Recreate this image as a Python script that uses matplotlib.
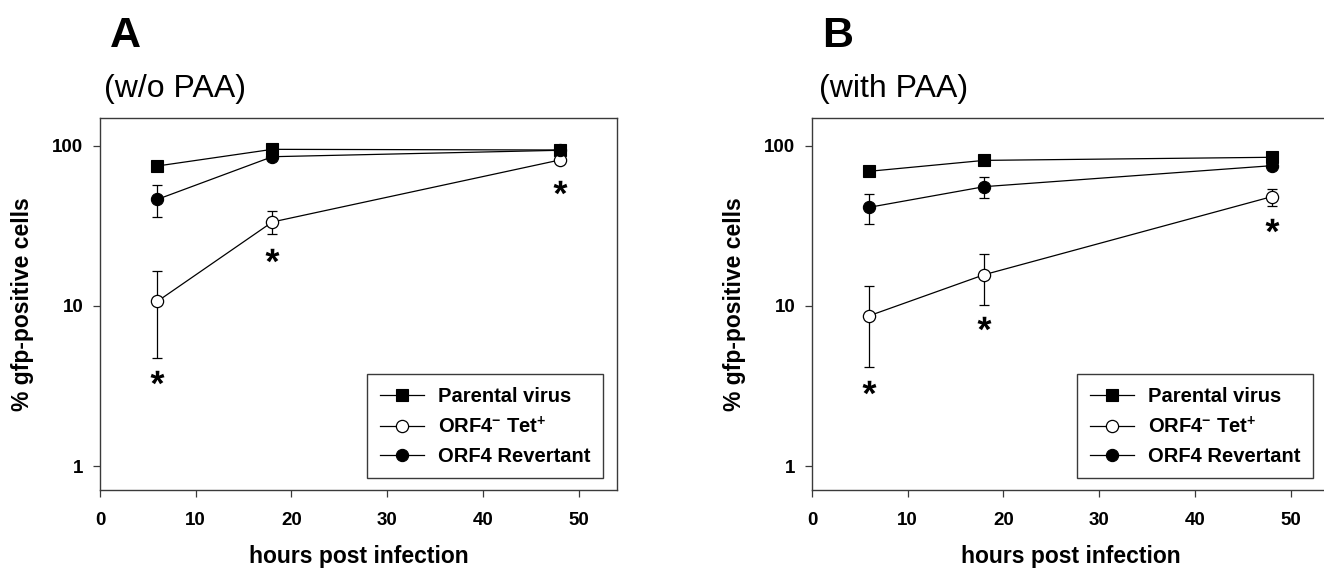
import numpy as np
import matplotlib
matplotlib.use("Agg")
import matplotlib.pyplot as plt
from matplotlib.textpath import TextPath
from matplotlib.font_manager import FontProperties
from matplotlib.path import Path
from matplotlib.ticker import FixedLocator, NullLocator

plt.rcParams['font.family'] = ['Liberation Sans', 'DejaVu Sans']
plt.rcParams['mathtext.fontset'] = 'custom'
plt.rcParams['mathtext.rm'] = 'Liberation Sans:bold'
plt.rcParams['mathtext.bf'] = 'Liberation Sans:bold'
plt.rcParams['mathtext.it'] = 'Liberation Sans:bold'

# ---------------- data ----------------
hours = [6, 18, 48]

# Panel A (w/o PAA)
a_parental = [75.0, 95.3, 94.4]
a_revertant = [46.4, 85.7, 94.0]
a_revertant_lo = [35.8, 85.7, 94.0]
a_revertant_hi = [57.3, 85.7, 94.0]
a_orf4 = [10.7, 33.5, 81.7]
a_orf4_lo = [4.75, 28.2, 81.7]
a_orf4_hi = [16.6, 39.1, 81.7]
a_star_y = [3.6, 20.8, 55.2]

# Panel B (with PAA)
b_parental = [69.5, 81.3, 85.0]
b_revertant = [41.4, 55.7, 75.3]
b_revertant_lo = [32.4, 47.3, 75.3]
b_revertant_hi = [50.3, 64.3, 75.3]
b_orf4 = [8.7, 15.7, 48.2]
b_orf4_lo = [4.16, 10.1, 42.2]
b_orf4_hi = [13.4, 21.1, 54.1]
b_star_y = [3.1, 7.8, 32.1]

x_ticks = [0, 10, 20, 30, 40, 50]
y_ticks = [1, 10, 100]
y_tick_labels = ["1", "10", "100"]
legend_labels = ["Parental virus", r"ORF4$^{-}$ Tet$^{+}$", "ORF4 Revertant"]
panel_letters = ["A", "B"]
panel_titles = ["(w/o PAA)", "(with PAA)"]
x_label = "hours post infection"
y_label = "% gfp-positive cells"

# ---------------- star marker ----------------
fp = FontProperties(family='Liberation Sans', weight='bold')
tp = TextPath((0, 0), "*", prop=fp, size=10)
verts = tp.vertices.copy()
codes = tp.codes.copy()
real = codes != Path.CLOSEPOLY
cx = (verts[real, 0].min() + verts[real, 0].max()) / 2
cy = (verts[real, 1].min() + verts[real, 1].max()) / 2
verts[:, 0] -= cx
verts[:, 1] -= cy
verts[~real] = 0.0
star_marker = Path(verts, codes)

W, H = 1324, 568
fig = plt.figure(figsize=(W / 100, H / 100), dpi=100)

ax_w = 517 / W
ax_h = 372 / H
ax_b = 1 - 490 / H
axA = fig.add_axes([100 / W, ax_b, ax_w, ax_h])
axB = fig.add_axes([812 / W, ax_b, ax_w, ax_h])

spine_col = '#3a3a3a'


def draw(ax, par, rev, rev_lo, rev_hi, orf, orf_lo, orf_hi, star_y, legend_x):
    ax.set_yscale('log')
    lw = 0.9
    h1, = ax.plot(hours, par, '-', color='black', lw=lw, marker='s', ms=8.6,
                  mfc='black', mec='black', mew=0.8, zorder=3)
    rev_err = [np.array(rev) - np.array(rev_lo), np.array(rev_hi) - np.array(rev)]
    orf_err = [np.array(orf) - np.array(orf_lo), np.array(orf_hi) - np.array(orf)]
    ax.errorbar(hours, orf, yerr=orf_err, fmt='none', ecolor='black', elinewidth=0.9,
                capsize=3.3, capthick=0.9, zorder=2)
    ax.errorbar(hours, rev, yerr=rev_err, fmt='none', ecolor='black', elinewidth=0.9,
                capsize=3.3, capthick=0.9, zorder=2)
    h2, = ax.plot(hours, orf, '-', color='black', lw=lw, marker='o', ms=8.8,
                  mfc='white', mec='black', mew=0.9, zorder=3)
    h3, = ax.plot(hours, rev, '-', color='black', lw=lw, marker='o', ms=8.8,
                  mfc='black', mec='black', mew=0.8, zorder=4)
    ax.plot(hours, star_y, ls='none', marker=star_marker, ms=10, color='black',
            mec='black', mew=0, zorder=5)

    ax.set_xlim(0, 54)
    ax.set_ylim(0.708, 149.6)
    ax.xaxis.set_major_locator(FixedLocator(x_ticks))
    ax.set_xticklabels([str(t) for t in x_ticks])
    ax.yaxis.set_major_locator(FixedLocator(y_ticks))
    ax.yaxis.set_minor_locator(NullLocator())
    ax.set_yticklabels(y_tick_labels)
    ax.tick_params(axis='both', direction='out', length=5, width=0.9, color=spine_col,
                   labelsize=13.5)
    ax.tick_params(axis='y', pad=7)
    ax.tick_params(axis='x', pad=11)
    for lab in ax.get_xticklabels() + ax.get_yticklabels():
        lab.set_fontweight('bold')
    for s in ax.spines.values():
        s.set_color(spine_col)
        s.set_linewidth(1.0)
    ax.set_xlabel(x_label, fontsize=16.5, fontweight='bold', labelpad=11)
    ax.set_ylabel(y_label, fontsize=16.5, fontweight='bold', labelpad=13)

    leg = ax.legend([h1, h2, h3], legend_labels, loc='lower right',
                    bbox_to_anchor=(legend_x, 0.032), frameon=True, fancybox=False,
                    edgecolor='black', framealpha=1,
                    prop=FontProperties(family='Liberation Sans', weight='bold', size=14.5),
                    handlelength=2.2, handletextpad=0.7, borderpad=0.62,
                    labelspacing=0.48, borderaxespad=0)
    leg.get_frame().set_linewidth(1.0)
    leg.get_frame().set_edgecolor(spine_col)
    return ax


draw(axA, a_parental, a_revertant, a_revertant_lo, a_revertant_hi,
     a_orf4, a_orf4_lo, a_orf4_hi, a_star_y, (603 - 100) / 517)
draw(axB, b_parental, b_revertant, b_revertant_lo, b_revertant_hi,
     b_orf4, b_orf4_lo, b_orf4_hi, b_star_y, (1313 - 812) / 517)

fig.text(110 / W, 1 - 47 / H, panel_letters[0], fontsize=31, fontweight='bold',
         ha='left', va='baseline')
fig.text(822 / W, 1 - 47 / H, panel_letters[1], fontsize=31, fontweight='bold',
         ha='left', va='baseline')
fig.text(104 / W, 1 - 97 / H, panel_titles[0], fontsize=23, ha='left', va='baseline')
fig.text(819 / W, 1 - 97 / H, panel_titles[1], fontsize=23, ha='left', va='baseline')

fig.savefig("out.png", dpi=100)
